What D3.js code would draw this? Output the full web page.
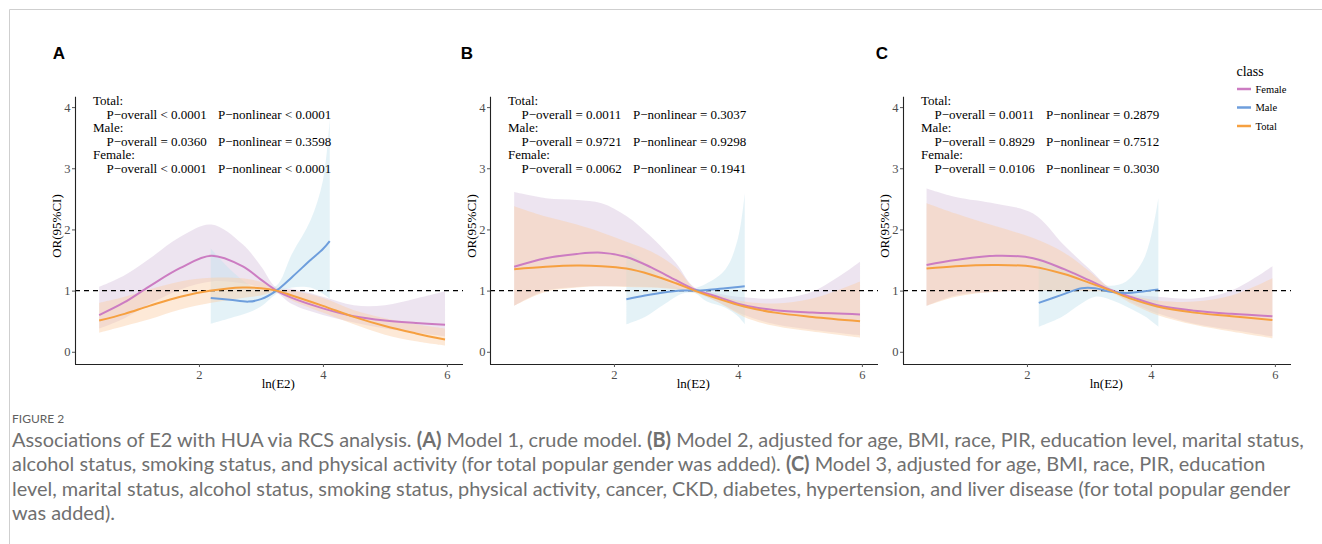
<!DOCTYPE html>
<html>
<head>
<meta charset="utf-8">
<title>Figure 2 - RCS</title>
<script src="https://cdnjs.cloudflare.com/ajax/libs/d3/7.8.5/d3.min.js"></script>
<style>
body { margin: 0; background: #fff; }
svg text { font-family: "Liberation Serif", "Times New Roman", serif; }
.tick-lab { fill: #4d4d4d; font-size: 12.5px; }
.note { font-size: 13px; fill: #000; }
.cap { font-family: Lato, "Open Sans", sans-serif !important; fill: #707070; }
</style>
</head>
<body>
<div id="chart"></div>
<script>
// each series: [lnE2, OR, lower, upper]
var A_female = [[0.39,0.60,0.38,1.06],[0.8,0.81,0.55,1.25],[1.2,1.07,0.78,1.52],[1.7,1.37,1.02,1.88],[2.2,1.57,1.15,2.08],[2.7,1.40,1.12,1.76],[3.0,1.18,1.05,1.40],[3.25,1.00,0.97,1.05],[3.5,0.88,0.78,1.03],[4.0,0.71,0.60,0.90],[4.5,0.58,0.48,0.76],[5.0,0.51,0.38,0.76],[5.5,0.47,0.31,0.87],[5.97,0.44,0.25,0.99]];
var A_male = [[2.19,0.88,0.46,1.69],[2.5,0.85,0.55,1.35],[2.8,0.82,0.64,1.10],[3.0,0.86,0.74,1.02],[3.25,1.00,0.95,1.08],[3.5,1.22,1.05,1.60],[3.8,1.50,1.05,2.15],[4.0,1.68,0.95,2.80],[4.11,1.81,0.87,3.80]];
var A_total = [[0.39,0.51,0.31,0.80],[0.8,0.62,0.42,0.90],[1.2,0.75,0.53,1.02],[1.7,0.90,0.69,1.15],[2.2,1.00,0.80,1.21],[2.7,1.05,0.88,1.20],[3.0,1.04,0.92,1.14],[3.25,1.00,0.97,1.03],[3.5,0.92,0.84,1.00],[4.0,0.75,0.64,0.88],[4.5,0.57,0.45,0.68],[5.0,0.42,0.28,0.55],[5.5,0.30,0.17,0.45],[5.97,0.20,0.10,0.38]];

var B_female = [[0.39,1.39,0.75,2.61],[0.9,1.53,1.00,2.51],[1.4,1.60,1.06,2.48],[1.8,1.62,1.07,2.43],[2.2,1.55,1.07,2.22],[2.6,1.38,1.06,1.88],[3.0,1.17,1.03,1.45],[3.3,1.02,0.98,1.05],[3.7,0.89,0.80,0.95],[4.1,0.76,0.60,0.89],[4.6,0.68,0.45,0.87],[5.2,0.64,0.36,0.98],[5.97,0.61,0.27,1.47]];
var B_male = [[2.2,0.86,0.45,1.66],[2.5,0.92,0.57,1.45],[2.8,0.97,0.77,1.17],[3.1,1.00,0.95,1.03],[3.3,1.00,0.96,1.04],[3.5,1.01,0.82,1.12],[3.8,1.04,0.72,1.35],[4.0,1.06,0.58,1.85],[4.11,1.07,0.45,2.59]];
var B_total = [[0.39,1.35,0.75,2.38],[0.9,1.39,0.98,2.21],[1.4,1.41,1.05,2.08],[1.8,1.40,1.07,1.95],[2.2,1.36,1.06,1.80],[2.6,1.26,1.05,1.64],[3.0,1.12,1.02,1.38],[3.3,1.00,0.97,1.04],[3.7,0.86,0.80,0.92],[4.1,0.74,0.57,0.82],[4.6,0.64,0.42,0.79],[5.2,0.57,0.33,0.87],[5.97,0.50,0.23,1.15]];

var C_female = [[0.38,1.42,0.75,2.67],[0.85,1.50,0.92,2.53],[1.5,1.57,0.98,2.42],[2.1,1.53,1.00,2.26],[2.6,1.35,1.00,1.74],[3.0,1.17,1.00,1.36],[3.35,1.01,0.98,1.04],[3.7,0.89,0.80,0.94],[4.1,0.76,0.63,0.90],[4.7,0.67,0.46,0.87],[5.3,0.62,0.36,1.00],[5.96,0.58,0.25,1.40]];
var C_male = [[2.19,0.80,0.41,1.55],[2.56,0.93,0.57,1.39],[2.88,1.04,0.79,1.26],[3.1,1.04,0.90,1.12],[3.35,0.98,0.85,1.08],[3.6,0.96,0.74,1.15],[3.9,0.99,0.58,1.55],[4.12,1.02,0.41,2.51]];
var C_total = [[0.38,1.36,0.75,2.43],[0.85,1.40,0.90,2.26],[1.5,1.42,0.98,2.05],[2.1,1.39,1.00,1.86],[2.6,1.27,1.00,1.62],[3.0,1.13,0.99,1.32],[3.35,1.00,0.97,1.03],[3.7,0.86,0.78,0.92],[4.1,0.74,0.60,0.84],[4.7,0.64,0.44,0.82],[5.3,0.58,0.33,0.92],[5.96,0.52,0.22,1.20]];

var panels = ["A", "B", "C"];
var classes = ["Female", "Male", "Total"];
var xTicks = [2, 4, 6];
var yTicks = [0, 1, 2, 3, 4];
var pNotes = {
  A: [["Total:"], ["P\u2212overall < 0.0001", "P\u2212nonlinear < 0.0001"], ["Male:"], ["P\u2212overall = 0.0360", "P\u2212nonlinear = 0.3598"], ["Female:"], ["P\u2212overall < 0.0001", "P\u2212nonlinear < 0.0001"]],
  B: [["Total:"], ["P\u2212overall = 0.0011", "P\u2212nonlinear = 0.3037"], ["Male:"], ["P\u2212overall = 0.9721", "P\u2212nonlinear = 0.9298"], ["Female:"], ["P\u2212overall = 0.0062", "P\u2212nonlinear = 0.1941"]],
  C: [["Total:"], ["P\u2212overall = 0.0011", "P\u2212nonlinear = 0.2879"], ["Male:"], ["P\u2212overall = 0.8929", "P\u2212nonlinear = 0.7512"], ["Female:"], ["P\u2212overall = 0.0106", "P\u2212nonlinear = 0.3030"]]
};
var series = {
  A: { Female: A_female, Male: A_male, Total: A_total },
  B: { Female: B_female, Male: B_male, Total: B_total },
  C: { Female: C_female, Male: C_male, Total: C_total }
};

var lineCol = { Female: "#cc7cc2", Male: "#6e9edc", Total: "#f6a040" };
var fillCol = { Female: "#d6c4dd", Male: "#c4e2ee", Total: "#fbcfa6" };
var fillOp = { Female: 0.45, Male: 0.45, Total: 0.45 };

var W = 1322, H = 544;
var svg = d3.select("#chart").append("svg").attr("width", W).attr("height", H);

// frame lines
svg.append("line").attr("x1", 9.5).attr("x2", W).attr("y1", 9.5).attr("y2", 9.5).attr("stroke", "#cfcfcf");
svg.append("line").attr("x1", 9.5).attr("x2", 9.5).attr("y1", 9.5).attr("y2", H).attr("stroke", "#cfcfcf");

var x0s = { A: 75, B: 490, C: 903 };
var tagX = { A: 59, B: 467, C: 882 };
var yScale = d3.scaleLinear().domain([-0.2, 4.17]).range([364, 96.7]);

panels.forEach(function(p) {
  var x0 = x0s[p];
  var xScale = d3.scaleLinear().domain([0, 6.26]).range([x0, x0 + 388]);
  var g = svg.append("g");

  var area = d3.area().curve(d3.curveCatmullRom)
    .x(function(d) { return xScale(d[0]); })
    .y0(function(d) { return yScale(d[2]); })
    .y1(function(d) { return yScale(d[3]); });
  var line = d3.line().curve(d3.curveCatmullRom)
    .x(function(d) { return xScale(d[0]); })
    .y(function(d) { return yScale(d[1]); });

  classes.forEach(function(c) {
    g.append("path").datum(series[p][c]).attr("d", area)
      .attr("fill", fillCol[c]).attr("fill-opacity", fillOp[c]);
  });

  // reference line at OR = 1
  g.append("line")
    .attr("x1", x0).attr("x2", x0 + 388)
    .attr("y1", yScale(1)).attr("y2", yScale(1))
    .attr("stroke", "#000").attr("stroke-width", 1.3).attr("stroke-dasharray", "5,4");

  classes.forEach(function(c) {
    g.append("path").datum(series[p][c]).attr("d", line)
      .attr("fill", "none").attr("stroke", lineCol[c]).attr("stroke-width", 2);
  });

  // axes
  var ax = g.append("g").attr("transform", "translate(0,364)")
    .call(d3.axisBottom(xScale).tickValues(xTicks).tickFormat(d3.format("d")).tickSize(3).tickPadding(3));
  var ay = g.append("g").attr("transform", "translate(" + x0 + ",0)")
    .call(d3.axisLeft(yScale).tickValues(yTicks).tickFormat(d3.format("d")).tickSize(3).tickPadding(1.5));
  [ax, ay].forEach(function(a) {
    a.select(".domain").attr("stroke", "#222").attr("stroke-width", 1.1);
    a.selectAll(".tick line").attr("stroke", "#555");
    a.selectAll(".tick text").attr("class", "tick-lab")
      .style("font-family", "'Liberation Serif', serif");
  });
  ay.select(".domain").attr("d", "M0.5,96.7V364");
  ax.select(".domain").attr("d", "M" + x0 + ",0.5H" + (x0 + 388));

  g.append("text").attr("x", xScale(3.2) + 5).attr("y", 388)
    .attr("text-anchor", "middle").style("font-size", "13px").text("ln(E2)");
  g.append("text").attr("transform", "translate(" + (x0 - 14.5) + ",226) rotate(-90)")
    .attr("text-anchor", "middle").style("font-size", "13px").text("OR(95%CI)");

  // panel tag
  g.append("text").attr("x", tagX[p]).attr("y", 59).attr("text-anchor", "middle")
    .style("font-family", "'Liberation Sans', Arial, sans-serif").style("font-weight", "bold")
    .style("font-size", "17px").text(p);

  // p-value notes
  pNotes[p].forEach(function(row, i) {
    var yy = 105 + i * 13.6;
    if (row.length === 1) {
      g.append("text").attr("class", "note").attr("x", x0 + 18).attr("y", yy).text(row[0]);
    } else {
      g.append("text").attr("class", "note").attr("x", x0 + 31.5).attr("y", yy).text(row[0]);
      g.append("text").attr("class", "note").attr("x", x0 + 143).attr("y", yy).text(row[1]);
    }
  });
});

// legend
var lg = svg.append("g");
lg.append("text").attr("x", 1236.5).attr("y", 76).style("font-size", "14px").text("class");
classes.forEach(function(c, i) {
  var yy = 89 + i * 18.5;
  lg.append("line").attr("x1", 1237).attr("x2", 1251).attr("y1", yy).attr("y2", yy)
    .attr("stroke", lineCol[c]).attr("stroke-width", 2.5);
  lg.append("text").attr("x", 1255.5).attr("y", yy + 3.6).style("font-size", "10.5px").text(c);
});

// caption
svg.append("text").attr("class", "cap").attr("x", 12).attr("y", 423)
  .style("font-size", "12px").style("fill", "#606060").text("FIGURE 2");

var capLines = [
  [["Associations of E2 with HUA via RCS analysis. ", 0], ["(A)", 1], [" Model 1, crude model. ", 0], ["(B)", 1], [" Model 2, adjusted for age, BMI, race, PIR, education level, marital status,", 0]],
  [["alcohol status, smoking status, and physical activity (for total popular gender was added). ", 0], ["(C)", 1], [" Model 3, adjusted for age, BMI, race, PIR, education", 0]],
  [["level, marital status, alcohol status, smoking status, physical activity, cancer, CKD, diabetes, hypertension, and liver disease (for total popular gender", 0]],
  [["was added).", 0]]
];
var capNodes = [];
capLines.forEach(function(parts, i) {
  var t = svg.append("text").attr("class", "cap").attr("x", 12).attr("y", 447 + i * 24.3)
    .style("font-size", "17px");
  parts.forEach(function(pt) {
    t.append("tspan").style("font-weight", pt[1] ? "bold" : "normal").text(pt[0]);
  });
  capNodes.push(t);
});
// fit first caption line to the figure width
var w0 = capNodes[0].node().getComputedTextLength();
var fs = 17 * 1293 / w0;
capNodes.forEach(function(t) { t.style("font-size", fs + "px"); });
</script>
</body>
</html>
